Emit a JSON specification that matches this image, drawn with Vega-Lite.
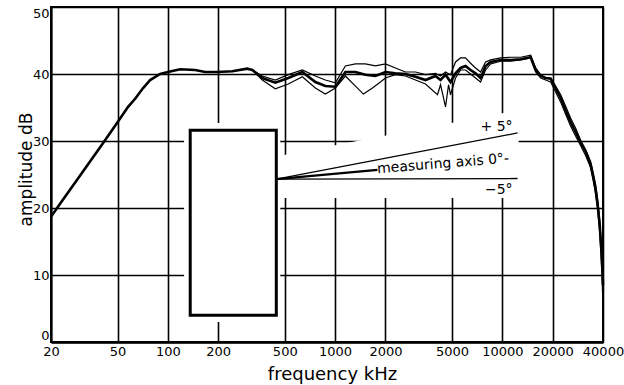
{
  "$schema": "https://vega.github.io/schema/vega-lite/v6.json",
  "width": 552,
  "height": 335,
  "autosize": "none",
  "padding": {"left": 51, "top": 7, "right": 21, "bottom": 43},
  "background": "white",
  "config": {"view": {"stroke": "black", "strokeWidth": 2}, "font": "DejaVu Sans"},
  "datasets": {
    "curves": [
      {"s": "0°", "f": 20, "db": 18.7}, {"s": "0°", "f": 22.6, "db": 20.6}, {"s": "0°", "f": 29.8, "db": 24.8},
      {"s": "0°", "f": 41.0, "db": 29.7}, {"s": "0°", "f": 50, "db": 32.8}, {"s": "0°", "f": 57.8, "db": 35.1},
      {"s": "0°", "f": 63.7, "db": 36.3}, {"s": "0°", "f": 71.1, "db": 37.9}, {"s": "0°", "f": 78.3, "db": 39.1},
      {"s": "0°", "f": 89.9, "db": 40.0}, {"s": "0°", "f": 100, "db": 40.3}, {"s": "0°", "f": 118.5, "db": 40.7},
      {"s": "0°", "f": 145.7, "db": 40.6}, {"s": "0°", "f": 167, "db": 40.3}, {"s": "0°", "f": 197, "db": 40.3},
      {"s": "0°", "f": 243, "db": 40.4}, {"s": "0°", "f": 298, "db": 40.8}, {"s": "0°", "f": 320, "db": 40.6},
      {"s": "0°", "f": 367, "db": 39.4}, {"s": "0°", "f": 439, "db": 38.7}, {"s": "0°", "f": 525, "db": 39.4},
      {"s": "0°", "f": 637, "db": 40.3}, {"s": "0°", "f": 762, "db": 38.8}, {"s": "0°", "f": 874, "db": 38.2},
      {"s": "0°", "f": 1004, "db": 38.1}, {"s": "0°", "f": 1152, "db": 40.3}, {"s": "0°", "f": 1323, "db": 40.3},
      {"s": "0°", "f": 1518, "db": 39.9}, {"s": "0°", "f": 1743, "db": 39.7}, {"s": "0°", "f": 2000, "db": 40.3},
      {"s": "0°", "f": 2296, "db": 40.1}, {"s": "0°", "f": 2636, "db": 40.0}, {"s": "0°", "f": 3024, "db": 39.6},
      {"s": "0°", "f": 3472, "db": 39.1}, {"s": "0°", "f": 3986, "db": 39.7}, {"s": "0°", "f": 4270, "db": 39.1},
      {"s": "0°", "f": 4575, "db": 39.9}, {"s": "0°", "f": 4900, "db": 38.8}, {"s": "0°", "f": 5252, "db": 40.1},
      {"s": "0°", "f": 5624, "db": 40.9}, {"s": "0°", "f": 6026, "db": 41.2}, {"s": "0°", "f": 6457, "db": 40.6},
      {"s": "0°", "f": 6916, "db": 40.1}, {"s": "0°", "f": 7412, "db": 39.4}, {"s": "0°", "f": 7940, "db": 41.2},
      {"s": "0°", "f": 8508, "db": 41.8}, {"s": "0°", "f": 9766, "db": 42.1}, {"s": "0°", "f": 11210, "db": 42.1},
      {"s": "0°", "f": 12868, "db": 42.2}, {"s": "0°", "f": 14770, "db": 42.5}, {"s": "0°", "f": 15824, "db": 40.6},
      {"s": "0°", "f": 16952, "db": 39.7}, {"s": "0°", "f": 18162, "db": 39.4}, {"s": "0°", "f": 19454, "db": 39.3},
      {"s": "0°", "f": 20840, "db": 37.9}, {"s": "0°", "f": 22334, "db": 36.4}, {"s": "0°", "f": 23920, "db": 34.6},
      {"s": "0°", "f": 25640, "db": 32.8}, {"s": "0°", "f": 27460, "db": 31.3}, {"s": "0°", "f": 29420, "db": 29.7},
      {"s": "0°", "f": 31520, "db": 28.4}, {"s": "0°", "f": 33780, "db": 26.4}, {"s": "0°", "f": 35200, "db": 24.2},
      {"s": "0°", "f": 36180, "db": 22.7}, {"s": "0°", "f": 37200, "db": 20.4}, {"s": "0°", "f": 38220, "db": 17.5},
      {"s": "0°", "f": 38760, "db": 15.2}, {"s": "0°", "f": 39300, "db": 13.0}, {"s": "0°", "f": 39700, "db": 10.7},
      {"s": "0°", "f": 40000, "db": 8.5},

      {"s": "+5°", "f": 320, "db": 40.6}, {"s": "+5°", "f": 367, "db": 39.7}, {"s": "+5°", "f": 439, "db": 39.1},
      {"s": "+5°", "f": 525, "db": 39.9}, {"s": "+5°", "f": 637, "db": 40.6}, {"s": "+5°", "f": 762, "db": 39.7},
      {"s": "+5°", "f": 874, "db": 39.1}, {"s": "+5°", "f": 1004, "db": 38.7}, {"s": "+5°", "f": 1152, "db": 41.2},
      {"s": "+5°", "f": 1323, "db": 41.5}, {"s": "+5°", "f": 1518, "db": 41.5}, {"s": "+5°", "f": 1743, "db": 41.2},
      {"s": "+5°", "f": 2000, "db": 41.5}, {"s": "+5°", "f": 2296, "db": 40.9}, {"s": "+5°", "f": 2636, "db": 40.3},
      {"s": "+5°", "f": 3024, "db": 40.3}, {"s": "+5°", "f": 3472, "db": 39.9}, {"s": "+5°", "f": 3986, "db": 40.1},
      {"s": "+5°", "f": 4270, "db": 39.7}, {"s": "+5°", "f": 4575, "db": 40.3}, {"s": "+5°", "f": 4900, "db": 39.9},
      {"s": "+5°", "f": 5252, "db": 41.8}, {"s": "+5°", "f": 5624, "db": 42.4}, {"s": "+5°", "f": 6026, "db": 42.4},
      {"s": "+5°", "f": 6457, "db": 41.6}, {"s": "+5°", "f": 6916, "db": 40.9}, {"s": "+5°", "f": 7412, "db": 40.3},
      {"s": "+5°", "f": 7940, "db": 41.8}, {"s": "+5°", "f": 8508, "db": 42.1}, {"s": "+5°", "f": 9766, "db": 42.4},
      {"s": "+5°", "f": 11210, "db": 42.5}, {"s": "+5°", "f": 12868, "db": 42.5}, {"s": "+5°", "f": 14770, "db": 42.8},
      {"s": "+5°", "f": 15824, "db": 40.9}, {"s": "+5°", "f": 16952, "db": 39.9}, {"s": "+5°", "f": 18162, "db": 39.4},
      {"s": "+5°", "f": 19454, "db": 39.4}, {"s": "+5°", "f": 20840, "db": 38.2}, {"s": "+5°", "f": 22334, "db": 36.9},
      {"s": "+5°", "f": 23920, "db": 35.2}, {"s": "+5°", "f": 25640, "db": 33.4}, {"s": "+5°", "f": 27460, "db": 31.9},
      {"s": "+5°", "f": 29420, "db": 30.1}, {"s": "+5°", "f": 31520, "db": 28.7}, {"s": "+5°", "f": 33780, "db": 26.9},
      {"s": "+5°", "f": 35200, "db": 24.9}, {"s": "+5°", "f": 36180, "db": 23.4}, {"s": "+5°", "f": 37200, "db": 21.2},
      {"s": "+5°", "f": 38220, "db": 18.2}, {"s": "+5°", "f": 38760, "db": 16.0}, {"s": "+5°", "f": 39300, "db": 13.7},
      {"s": "+5°", "f": 39700, "db": 11.5}, {"s": "+5°", "f": 40000, "db": 9.3},

      {"s": "-5°", "f": 320, "db": 40.6}, {"s": "-5°", "f": 367, "db": 39.1}, {"s": "-5°", "f": 439, "db": 37.8},
      {"s": "-5°", "f": 525, "db": 38.5}, {"s": "-5°", "f": 637, "db": 39.6}, {"s": "-5°", "f": 762, "db": 37.9},
      {"s": "-5°", "f": 874, "db": 37.0}, {"s": "-5°", "f": 1004, "db": 37.9}, {"s": "-5°", "f": 1152, "db": 39.7},
      {"s": "-5°", "f": 1323, "db": 38.2}, {"s": "-5°", "f": 1477, "db": 37.0}, {"s": "-5°", "f": 1672, "db": 37.9},
      {"s": "-5°", "f": 1867, "db": 38.8}, {"s": "-5°", "f": 2000, "db": 39.4}, {"s": "-5°", "f": 2296, "db": 39.9},
      {"s": "-5°", "f": 2636, "db": 39.7}, {"s": "-5°", "f": 3024, "db": 39.1}, {"s": "-5°", "f": 3472, "db": 38.5},
      {"s": "-5°", "f": 4096, "db": 36.9}, {"s": "-5°", "f": 4270, "db": 38.4}, {"s": "-5°", "f": 4575, "db": 35.1},
      {"s": "-5°", "f": 4768, "db": 38.4}, {"s": "-5°", "f": 4900, "db": 36.9}, {"s": "-5°", "f": 5252, "db": 39.4},
      {"s": "-5°", "f": 5624, "db": 40.6}, {"s": "-5°", "f": 6026, "db": 40.6}, {"s": "-5°", "f": 6457, "db": 40.0},
      {"s": "-5°", "f": 6916, "db": 39.4}, {"s": "-5°", "f": 7412, "db": 38.8}, {"s": "-5°", "f": 7940, "db": 40.6},
      {"s": "-5°", "f": 8508, "db": 41.5}, {"s": "-5°", "f": 9766, "db": 41.9}, {"s": "-5°", "f": 11210, "db": 41.9},
      {"s": "-5°", "f": 12868, "db": 42.1}, {"s": "-5°", "f": 14770, "db": 42.4}, {"s": "-5°", "f": 15824, "db": 40.3},
      {"s": "-5°", "f": 16952, "db": 39.4}, {"s": "-5°", "f": 18162, "db": 39.1}, {"s": "-5°", "f": 19454, "db": 38.8},
      {"s": "-5°", "f": 20840, "db": 37.3}, {"s": "-5°", "f": 22334, "db": 35.8}, {"s": "-5°", "f": 23920, "db": 34.0},
      {"s": "-5°", "f": 25640, "db": 32.2}, {"s": "-5°", "f": 27460, "db": 30.7}, {"s": "-5°", "f": 29420, "db": 29.3},
      {"s": "-5°", "f": 31520, "db": 27.8}, {"s": "-5°", "f": 33780, "db": 26.0}, {"s": "-5°", "f": 35200, "db": 23.9},
      {"s": "-5°", "f": 36180, "db": 21.9}, {"s": "-5°", "f": 37200, "db": 19.7}, {"s": "-5°", "f": 38220, "db": 16.4},
      {"s": "-5°", "f": 38760, "db": 13.7}, {"s": "-5°", "f": 39300, "db": 10.7}, {"s": "-5°", "f": 39700, "db": 7.8},
      {"s": "-5°", "f": 40000, "db": 5.5}
    ],
    "maskRect": [{"f": 125, "f2": 470, "db": 3.0, "db2": 32.7}],
    "maskArea": [{"f": 470, "db": 27.8, "db2": 21.5}, {"f": 12520, "db": 34.6, "db2": 21.5}],
    "box": [{"f": 136, "f2": 445, "db": 4.0, "db2": 31.6}],
    "thinRays": [
      {"ray": "+5°", "f": 445, "db": 24.3, "f2": 12330, "db2": 31.2},
      {"ray": "-5°", "f": 445, "db": 24.3, "f2": 12330, "db2": 24.4}
    ],
    "axisRay": [{"ray": "0°", "f": 445, "db": 24.3, "f2": 1792, "db2": 25.7}],
    "angleLabels": [
      {"f": 11520, "db": 32.1, "label": "+ 5°"},
      {"f": 11520, "db": 22.7, "label": "−5°"}
    ],
    "axisLabel": [{"f": 1792, "db": 25.2, "label": "measuring axis 0°-"}]
  },
  "encoding": {
    "x": {
      "field": "f", "type": "quantitative",
      "scale": {"type": "log", "domain": [20, 40000], "nice": false},
      "axis": {
        "values": [20, 50, 100, 200, 500, 1000, 2000, 5000, 10000, 20000, 40000],
        "format": "d", "grid": true, "gridColor": "black", "gridWidth": 1.6, "gridOpacity": 1,
        "ticks": false, "domain": true, "domainColor": "black", "domainWidth": 2.5,
        "labelFont": "DejaVu Sans", "labelFontSize": 13, "labelColor": "black", "labelPadding": 3,
        "labelFlush": false, "labelOverlap": false,
        "title": "frequency kHz", "titleFont": "DejaVu Sans", "titleFontSize": 18, "titleFontWeight": "normal",
        "titleColor": "black", "titleY": 37, "titleX": 281, "titleBaseline": "alphabetic", "titleAlign": "center"
      }
    },
    "y": {
      "field": "db", "type": "quantitative",
      "scale": {"domain": [0, 50], "nice": false},
      "axis": {
        "values": [0, 10, 20, 30, 40, 50],
        "grid": true, "gridColor": "black", "gridWidth": 1.6, "gridOpacity": 1,
        "ticks": false, "domain": true, "domainColor": "black", "domainWidth": 2,
        "labelFont": "DejaVu Sans", "labelFontSize": 13, "labelColor": "black", "labelPadding": 2,
        "labelFlush": true,
        "title": "amplitude dB", "titleFont": "DejaVu Sans", "titleFontSize": 17, "titleFontWeight": "normal",
        "titleColor": "black", "titleX": -25, "titleY": 162, "titleAngle": 270, "titleBaseline": "middle", "titleAlign": "center"
      }
    }
  },
  "layer": [
    {
      "data": {"name": "maskRect"},
      "mark": {"type": "rect", "fill": "white", "strokeWidth": 0},
      "encoding": {"x2": {"field": "f2"}, "y2": {"field": "db2"}}
    },
    {
      "data": {"name": "maskArea"},
      "mark": {"type": "area", "color": "white", "opacity": 1},
      "encoding": {"y2": {"field": "db2"}}
    },
    {
      "data": {"name": "curves"},
      "transform": [{"filter": "datum.s !== '0°'"}],
      "mark": {"type": "line", "color": "black", "strokeWidth": 1.2},
      "encoding": {"detail": {"field": "s"}}
    },
    {
      "data": {"name": "curves"},
      "transform": [{"filter": "datum.s === '0°'"}],
      "mark": {"type": "line", "color": "black", "strokeWidth": 2.6},
      "encoding": {"detail": {"field": "s"}}
    },
    {
      "data": {"name": "box"},
      "mark": {"type": "rect", "fill": "white", "stroke": "black", "strokeWidth": 3},
      "encoding": {"x2": {"field": "f2"}, "y2": {"field": "db2"}}
    },
    {
      "data": {"name": "thinRays"},
      "mark": {"type": "rule", "color": "black", "strokeWidth": 1.3},
      "encoding": {"x2": {"field": "f2"}, "y2": {"field": "db2"}}
    },
    {
      "data": {"name": "axisRay"},
      "mark": {"type": "rule", "color": "black", "strokeWidth": 2.2},
      "encoding": {"x2": {"field": "f2"}, "y2": {"field": "db2"}}
    },
    {
      "data": {"name": "angleLabels"},
      "mark": {"type": "text", "align": "right", "baseline": "middle", "fontSize": 14, "font": "DejaVu Sans", "color": "black"},
      "encoding": {"text": {"field": "label"}}
    },
    {
      "data": {"name": "axisLabel"},
      "mark": {"type": "text", "align": "left", "baseline": "alphabetic", "fontSize": 14, "font": "DejaVu Sans", "color": "black", "angle": 355.4},
      "encoding": {"text": {"field": "label"}}
    }
  ]
}
